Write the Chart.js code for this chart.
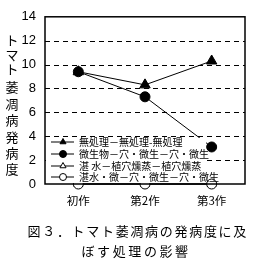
<!DOCTYPE html>
<html><head><meta charset="utf-8">
<script src="https://cdn.jsdelivr.net/npm/chart.js@4/dist/chart.umd.min.js"></script>
<style>html,body{margin:0;padding:0;background:#fff}#wrap{width:257px;height:266px}</style>
</head><body><div id="wrap"><canvas id="c" width="257" height="266"></canvas></div>
<script>
const categories = ['初作', '第2作', '第3作'];
const seriesLabels = ['無処理－無処理-無処理', '微生物－穴・微生－穴・微生', '湛 水－植穴燻蒸－植穴燻蒸', '湛水・微－穴・微生－穴・微生'];
const noTreatment = [9.4, 8.3, 10.3];
const microbe = [9.4, 7.3, 3.1];
const floodFumigation = [0, 0, 0];
const floodMicrobe = [0, 0, 0];
const yTicks = [0, 2, 4, 6, 8, 10, 12, 14];
const yTitle = 'トマト萎凋病発病度';
const captionLines = ['図３．トマト萎凋病の発病度に及', 'ぼす処理の影響'];

const CJK = '"Noto Sans CJK JP", sans-serif';
const styles = [
  {pointStyle: 'triangle', fill: '#000', r: 6},
  {pointStyle: 'circle', fill: '#000', r: 5},
  {pointStyle: 'triangle', fill: '#fff', r: 5},
  {pointStyle: 'circle', fill: '#fff', r: 5}
];
const dataSets = [noTreatment, microbe, floodFumigation, floodMicrobe];

const gridPlugin = {
  id: 'dashGrid',
  beforeDatasetsDraw(chart) {
    const ctx = chart.ctx, a = chart.chartArea, ys = chart.scales.y;
    ctx.save();
    ctx.strokeStyle = '#000'; ctx.lineWidth = 1; ctx.setLineDash([5, 4]);
    yTicks.forEach(v => {
      if (v === 0 || v === 14) return;
      const y = Math.round(ys.getPixelForValue(v)) + 0.5;
      ctx.beginPath(); ctx.moveTo(a.left, y); ctx.lineTo(a.right, y); ctx.stroke();
    });
    ctx.restore();
  }
};

const extras = {
  id: 'extras',
  afterDraw(chart) {
    const ctx = chart.ctx, a = chart.chartArea;
    ctx.save();
    ctx.strokeStyle = '#000'; ctx.lineWidth = 1.5; ctx.setLineDash([]);
    ctx.strokeRect(a.left, a.top, a.right - a.left, a.bottom - a.top);
    ctx.fillStyle = '#000'; ctx.font = '13px ' + CJK; ctx.textAlign = 'center'; ctx.textBaseline = 'middle';
    const ys = [40, 55, 69, 87, 104, 120, 137, 153, 169];
    [...yTitle].forEach((ch, i) => ctx.fillText(ch, 12, ys[i]));
    ctx.font = '13px ' + CJK;
    [...captionLines[0]].forEach((ch, i) => ctx.fillText(ch, 34 + i * 14.7, 231));
    [...captionLines[1]].forEach((ch, i) => ctx.fillText(ch, 88 + i * 15.6, 251));
    ctx.restore();
  }
};

const legendPlugin = {
  id: 'boxLegend',
  afterDatasetsDraw(chart) {
    const ctx = chart.ctx, a = chart.chartArea;
    ctx.save();
    ctx.fillStyle = '#fff';
    ctx.fillRect(a.left + 1, 138, 205 - a.left, a.bottom - 139);
    const rows = [142, 154, 166, 177];
    ctx.font = '10px ' + CJK; ctx.textBaseline = 'middle'; ctx.textAlign = 'left';
    chart.data.datasets.forEach((ds, i) => {
      const y = rows[i];
      ctx.strokeStyle = '#000'; ctx.lineWidth = 1; ctx.setLineDash([]);
      ctx.beginPath(); ctx.moveTo(51, y); ctx.lineTo(74, y); ctx.stroke();
      ctx.fillStyle = styles[i].fill; ctx.strokeStyle = '#000';
      Chart.helpers.drawPoint(ctx, {pointStyle: styles[i].pointStyle, radius: 3.5, borderWidth: 1}, 63, y);
      ctx.fillStyle = '#000';
      ctx.fillText(ds.label, 79, y);
    });
    ctx.restore();
  }
};

new Chart(document.getElementById('c'), {
  type: 'line',
  data: {
    labels: categories,
    datasets: dataSets.map((d, i) => ({
      label: seriesLabels[i],
      data: d,
      borderColor: '#000',
      borderWidth: 1,
      backgroundColor: styles[i].fill,
      pointBackgroundColor: styles[i].fill,
      pointBorderColor: '#000',
      pointBorderWidth: 1,
      pointStyle: styles[i].pointStyle,
      pointRadius: styles[i].r,
      fill: false,
      tension: 0,
      clip: false,
      order: 3 - i
    }))
  },
  options: {
    responsive: false,
    animation: false,
    events: [],
    layout: {padding: {top: 16, right: 12, left: 0, bottom: 0}},
    plugins: {legend: {display: false}, tooltip: {enabled: false}},
    scales: {
      x: {
        offset: true,
        grid: {display: false, drawTicks: false},
        border: {display: false},
        ticks: {color: '#000', font: {family: CJK, size: 11.5}, padding: 10},
        afterFit(s) { s.height = 82; }
      },
      y: {
        min: 0, max: 14,
        afterBuildTicks(s) { s.ticks = yTicks.map(v => ({value: v})); },
        grid: {display: false, drawTicks: false},
        border: {display: false},
        ticks: {color: '#000', font: {family: '"Liberation Sans Narrow", "Liberation Sans", sans-serif', size: 13}, padding: 9},
        afterFit(s) { s.width = 45; }
      }
    }
  },
  plugins: [gridPlugin, legendPlugin, extras]
});
</script>
</body></html>
